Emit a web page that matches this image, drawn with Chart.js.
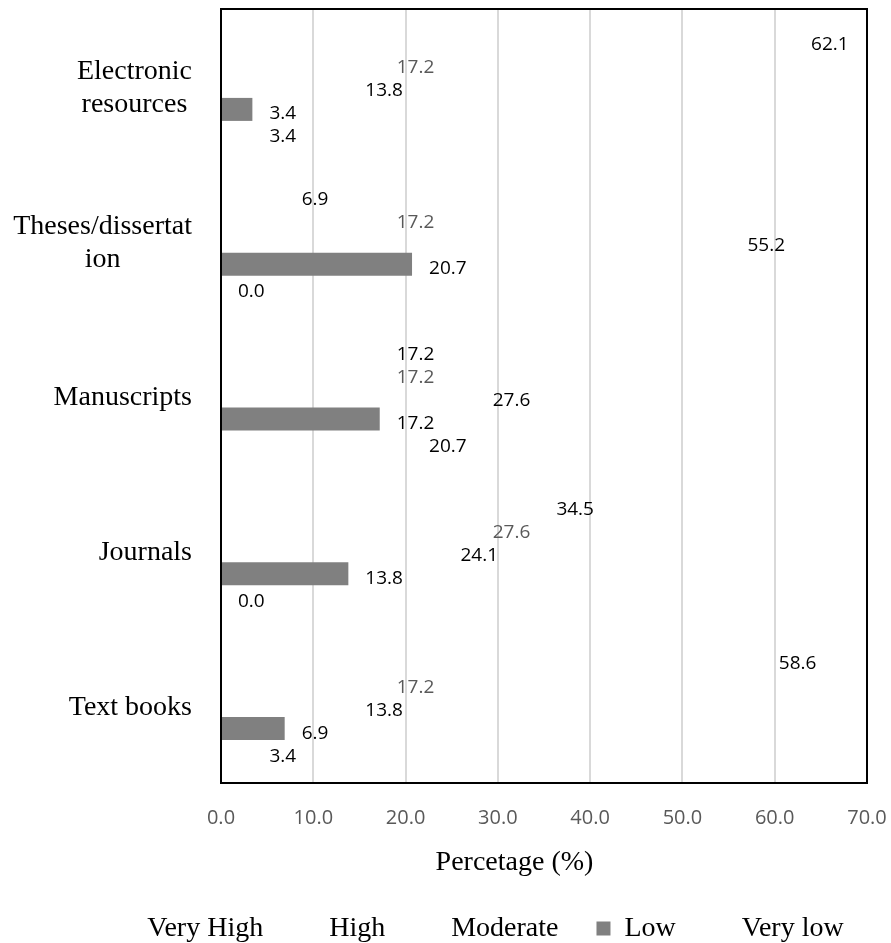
<!DOCTYPE html>
<html>
<head>
<meta charset="utf-8">
<script src="https://cdn.jsdelivr.net/npm/chart.js@4.4.1/dist/chart.umd.min.js"></script>
<style>
  html, body { margin: 0; padding: 0; background: #fff; }
  #wrap { width: 891px; height: 943px; }
</style>
</head>
<body>
<div id="wrap"><canvas id="myChart"></canvas></div>
<script>
// categories, top to bottom (lines as wrapped in the original)
const categories = [['Electronic', 'resources'], ['Theses/dissertat', 'ion'], 'Manuscripts', 'Journals', 'Text books'];
const seriesNames = ['Very High', 'High', 'Moderate', 'Low', 'Very low'];

// percentages per series, same order as categories
const veryHigh = [62.1, 6.9, 17.2, 34.5, 58.6];
const high     = [17.2, 17.2, 17.2, 27.6, 17.2];
const moderate = [13.8, 55.2, 27.6, 24.1, 13.8];
const low      = [3.4, 20.7, 17.2, 13.8, 6.9];
const veryLow  = [3.4, 0.0, 20.7, 0.0, 3.4];

const xTicks = [0, 10, 20, 30, 40, 50, 60, 70];
const xTitle = 'Percetage (%)';

// only "Low" is actually filled, the rest only show their labels
const fills = ['rgba(0,0,0,0)', 'rgba(0,0,0,0)', 'rgba(0,0,0,0)', '#808080', 'rgba(0,0,0,0)'];
const labelColors = ['#000000', '#595959', '#000000', '#000000', '#000000'];

const serif = '"Liberation Serif", "Times New Roman", serif';
const sans = '"Open Sans", sans-serif';

const allSeries = [veryHigh, high, moderate, low, veryLow];
const datasets = allSeries.map((vals, i) => ({
  label: seriesNames[i],
  data: vals,
  backgroundColor: fills[i],
  borderColor: 'rgba(0,0,0,0)',
  borderWidth: 0,
  categoryPercentage: 0.743,
  barPercentage: 1.0
}));

// frame, value labels, category labels and axis title
const extras = {
  id: 'extras',
  afterLayout(chart) {
    // move the legend a bit right and down, like the original
    const lg = chart.legend;
    lg.left += 48; lg.right += 48;
    lg.top += 9.5; lg.bottom += 9.5;
  },
  afterDatasetsDraw(chart) {
    const ctx = chart.ctx;
    const area = chart.chartArea;
    ctx.save();

    ctx.strokeStyle = '#000';
    ctx.lineWidth = 2;
    ctx.strokeRect(area.left, area.top, area.right - area.left, area.bottom - area.top);

    ctx.font = '19px ' + sans;
    ctx.textAlign = 'left';
    ctx.textBaseline = 'middle';
    chart.data.datasets.forEach((ds, i) => {
      const meta = chart.getDatasetMeta(i);
      ctx.fillStyle = labelColors[i];
      meta.data.forEach((bar, j) => {
        ctx.fillText(ds.data[j].toFixed(1), bar.x + 17, bar.y + 4.5);
      });
    });

    const yScale = chart.scales.y;
    ctx.font = '28px ' + serif;
    ctx.fillStyle = '#000';
    ctx.textAlign = 'center';
    ctx.textBaseline = 'alphabetic';
    categories.forEach((c, i) => {
      const lines = [].concat(c);
      const w = Math.max(...lines.map(l => ctx.measureText(l).width));
      const cx = area.left - 29 - w / 2;
      const cy = yScale.getPixelForValue(i);
      lines.forEach((l, k) => {
        ctx.fillText(l, cx, cy + 9.3 + (k - (lines.length - 1) / 2) * 33.3);
      });
    });

    ctx.fillText(xTitle, 514.5, area.bottom + 87);
    ctx.restore();
  }
};

const config = {
  type: 'bar',
  data: { labels: categories, datasets },
  options: {
    indexAxis: 'y',
    responsive: true,
    maintainAspectRatio: false,
    animation: false,
    layout: { padding: { top: 9, right: 24, left: 0, bottom: 0 } },
    scales: {
      x: {
        min: xTicks[0],
        max: xTicks[xTicks.length - 1],
        afterFit(scale) { scale.height = 84; },
        grid: { color: '#d9d9d9', lineWidth: 2, drawTicks: true, tickLength: 20, tickColor: 'rgba(0,0,0,0)' },
        border: { display: false },
        ticks: {
          stepSize: 10,
          padding: 3,
          color: '#595959',
          font: { family: sans, size: 20 },
          callback: v => v.toFixed(1)
        }
      },
      y: {
        afterFit(scale) { scale.width = 221; },
        grid: { display: false },
        border: { display: false },
        ticks: { display: false }
      }
    },
    plugins: {
      tooltip: { enabled: false },
      legend: {
        position: 'bottom',
        labels: {
          boxWidth: 14,
          boxHeight: 14,
          padding: 38,
          color: '#000',
          font: { family: serif, size: 28 }
        }
      }
    }
  },
  plugins: [extras]
};

const myChart = new Chart(document.getElementById('myChart'), config);
</script>
</body>
</html>
